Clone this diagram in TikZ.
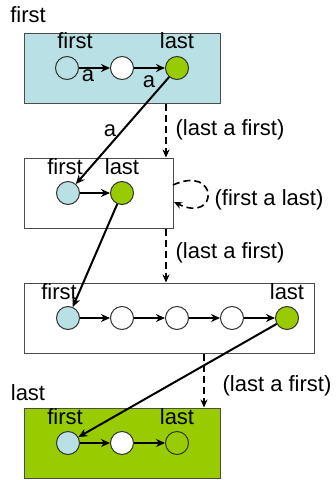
\documentclass[tikz,border=0pt]{standalone}
\usepackage{fontspec}
\setmainfont{Liberation Sans}
\usetikzlibrary{arrows.meta}
\definecolor{paleblue}{HTML}{B9E0E5}
\definecolor{leaf}{HTML}{99CC00}
\begin{document}
\begin{tikzpicture}[x=1pt,y=-1pt,
  every node/.style={font=\fontsize{22}{26}\selectfont, inner sep=0pt},
  state/.style={draw=black!70, line width=1pt, rectangle, minimum height=70pt},
  dot/.style={circle, draw=black!80, line width=1pt, minimum size=23pt},
  link/.style={line width=2pt, -{Stealth[length=9pt,width=8pt]}},
  step arrow/.style={line width=1.6pt, dash pattern=on 7pt off 4pt, -{Stealth[length=8pt,width=7pt]}},
  lbl/.style={anchor=base}]
\useasboundingbox (0,0) rectangle (336,480);

% state boxes
\node[state, fill=paleblue, minimum width=196pt] (b1) at (122,68) {};
\node[state, fill=white, minimum width=149pt] (b2) at (98.5,193) {};
\node[state, fill=white, minimum width=290pt] (b3) at (169,318) {};
\node[state, fill=leaf, minimum width=196pt] (b4) at (122,443) {};

% first state
\node[dot, fill=paleblue] (c11) at (67,68) {};
\node[dot, fill=white] (c12) at (122,68) {};
\node[dot, fill=leaf] (c13) at (177,68) {};
\draw[link] (c11) -- (c12);
\draw[link] (c12) -- (c13);
\node[lbl] (t11) at (75,48) {first};
\node[lbl] (t13) at (177,48) {last};
\node[lbl] (ta1) at (88,81) {a};
\node[lbl] (ta2) at (149,87) {a};
\node[lbl] (tf) at (28,22) {first};

% second state
\node[dot, fill=paleblue] (c21) at (68,193) {};
\node[dot, fill=leaf] (c22) at (122,193) {};
\draw[link] (c21) -- (c22);
\node[lbl] (t21) at (65,174) {first};
\node[lbl] (t22) at (122,174) {last};

% third state
\node[dot, fill=paleblue] (c31) at (68,318) {};
\node[dot, fill=white] (c32) at (122,318) {};
\node[dot, fill=white] (c33) at (177,318) {};
\node[dot, fill=white] (c34) at (232,318) {};
\node[dot, fill=leaf] (c35) at (287,318) {};
\draw[link] (c31) -- (c32);
\draw[link] (c32) -- (c33);
\draw[link] (c33) -- (c34);
\draw[link] (c34) -- (c35);
\node[lbl] (t31) at (59,299) {first};
\node[lbl] (t35) at (287,299) {last};

% fourth state
\node[dot, fill=paleblue] (c41) at (68,443) {};
\node[dot, fill=white] (c42) at (122,443) {};
\node[dot, fill=leaf] (c43) at (177,443) {};
\draw[link] (c41) -- (c42);
\draw[link] (c42) -- (c43);
\node[lbl] (t41) at (65,424) {first};
\node[lbl] (t43) at (177,424) {last};
\node[lbl] (tl) at (28,400) {last};

% links between states
\draw[link] (c13) -- (c21);
\node[lbl] (ta3) at (110,136) {a};
\draw[link] (c22) -- (c31);
\draw[link] (c35) -- (c41);

% transitions
\coordinate (x1) at (166,0);
\coordinate (x2) at (204,0);
\draw[step arrow] (b1.south -| x1) -- (b2.north -| x1);
\node[lbl] (s1) at (230,135) {(last a first)};
\draw[step arrow] (b2.south -| x1) -- (b3.north -| x1);
\node[lbl] (s2) at (230,258) {(last a first)};
\draw[step arrow] (b3.south -| x2) -- (b4.north -| x2);
\node[lbl] (s3) at (277,391) {(last a first)};

% self transition
\coordinate (l1) at (173,185);
\coordinate (l2) at (174,202);
\draw[step arrow] (l1) .. controls (219,164) and (219,224) .. (l2);
\node[lbl] (s4) at (269,205) {(first a last)};
\end{tikzpicture}
\end{document}
